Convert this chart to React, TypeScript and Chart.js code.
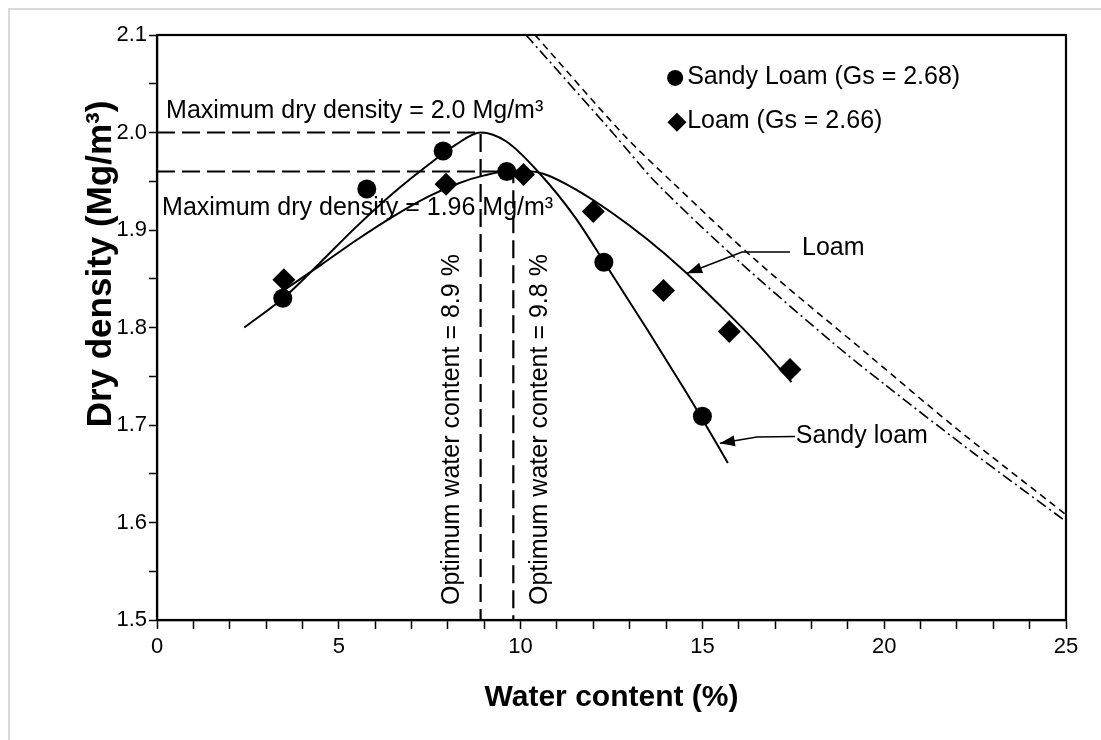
import React, { useEffect, useRef } from 'react';
import { Chart, registerables } from 'chart.js';

Chart.register(...registerables);

const FONT = '"Liberation Sans", Arial, Helvetica, sans-serif';

// Measured points
const sandyLoamWater = [3.46, 5.77, 7.87, 9.62, 12.29, 15.0];
const sandyLoamDensity = [1.83, 1.942, 1.981, 1.96, 1.867, 1.709];
const loamWater = [3.49, 7.95, 10.08, 12.0, 13.93, 15.74, 17.41];
const loamDensity = [1.849, 1.947, 1.957, 1.919, 1.838, 1.796, 1.757];

// Fitted compaction curves
const sandyFitWater = [2.4, 3.5, 4.5, 5.5, 6.5, 7.5, 8.2, 8.9, 9.6, 10.5, 11.5, 12.3, 13.5, 14.5, 15.0, 15.7];
const sandyFitDensity = [1.8, 1.831, 1.867, 1.904, 1.938, 1.968, 1.987, 2.0, 1.991, 1.959, 1.913, 1.867, 1.797, 1.737, 1.706, 1.661];
const loamFitWater = [3.4, 4.5, 5.5, 6.5, 7.5, 8.3, 9.0, 9.8, 10.6, 11.5, 12.5, 13.5, 14.5, 15.5, 16.5, 17.45];
const loamFitDensity = [1.836, 1.864, 1.89, 1.914, 1.935, 1.948, 1.956, 1.961, 1.958, 1.942, 1.918, 1.89, 1.858, 1.822, 1.784, 1.744];

// Zero-air-voids lines
const zavSandyWater = [10.4, 12.8, 14.2, 16.5, 19.5, 22.0, 25.0];
const zavSandyDensity = [2.1, 1.999, 1.948, 1.868, 1.774, 1.696, 1.608];
const zavLoamWater = [10.15, 12.55, 13.74, 16.0, 18.6, 20.0, 22.5, 25.0];
const zavLoamDensity = [2.1, 1.999, 1.948, 1.868, 1.784, 1.742, 1.67, 1.601];

// Optimum values
const maxDensitySandy = 2.0;
const optWaterSandy = 8.9;
const maxDensityLoam = 1.96;
const optWaterLoam = 9.8;

const xRange = [0, 25];
const yRange = [1.5, 2.1];

const seriesLabels = ['Sandy Loam (Gs = 2.68)', 'Loam (Gs = 2.66)'];

const pts = (xs: number[], ys: number[]) => xs.map((x, i) => ({ x, y: ys[i] }));

function arrow(ctx: CanvasRenderingContext2D, path: number[][]) {
  ctx.beginPath();
  ctx.moveTo(path[0][0], path[0][1]);
  for (let i = 1; i < path.length; i++) ctx.lineTo(path[i][0], path[i][1]);
  ctx.stroke();
  const [x1, y1] = path[path.length - 2];
  const [x2, y2] = path[path.length - 1];
  const a = Math.atan2(y2 - y1, x2 - x1);
  const L = 15, W = 5.5;
  ctx.beginPath();
  ctx.moveTo(x2, y2);
  ctx.lineTo(x2 - L * Math.cos(a) + W * Math.sin(a), y2 - L * Math.sin(a) - W * Math.cos(a));
  ctx.lineTo(x2 - L * Math.cos(a) - W * Math.sin(a), y2 - L * Math.sin(a) + W * Math.cos(a));
  ctx.closePath();
  ctx.fill();
}

export default function App() {
  const ref = useRef<HTMLCanvasElement>(null);

  useEffect(() => {
    const canvas = ref.current!;
    const overlay = {
      id: 'overlay',
      afterDraw(chart: any) {
        const ctx: CanvasRenderingContext2D = chart.ctx;
        const { left, right, top, bottom } = chart.chartArea;
        const sx = chart.scales.x, sy = chart.scales.y;
        const px = (v: number) => sx.getPixelForValue(v);
        const py = (v: number) => sy.getPixelForValue(v);
        ctx.save();
        ctx.strokeStyle = '#000';
        ctx.fillStyle = '#000';
        ctx.lineWidth = 2.2;
        ctx.strokeRect(left, top, right - left, bottom - top);

        // annotations
        ctx.font = `25px ${FONT}`;
        ctx.textBaseline = 'middle';
        ctx.textAlign = 'left';
        ctx.fillText(`Maximum dry density = ${maxDensitySandy.toFixed(1)} Mg/m³`, px(0.25), py(2.022));
        ctx.fillText(`Maximum dry density = ${maxDensityLoam.toFixed(2)} Mg/m³`, px(0.14), py(1.9226));

        ctx.save();
        ctx.translate(px(8.11), py(1.5154));
        ctx.rotate(-Math.PI / 2);
        ctx.fillText(`Optimum water content = ${optWaterSandy} %`, 0, 0);
        ctx.restore();
        ctx.save();
        ctx.translate(px(10.53), py(1.5154));
        ctx.rotate(-Math.PI / 2);
        ctx.fillText(`Optimum water content = ${optWaterLoam} %`, 0, 0);
        ctx.restore();

        // curve labels with arrows
        ctx.lineWidth = 1.5;
        arrow(ctx, [[px(17.41), py(1.8774)], [px(16.09), py(1.8774)], [px(14.58), py(1.8556)]]);
        ctx.fillText('Loam', px(17.74), py(1.881));
        arrow(ctx, [[px(17.55), py(1.6882)], [px(16.5), py(1.6877)], [px(15.48), py(1.6812)]]);
        ctx.fillText('Sandy loam', px(17.57), py(1.6887));

        // legend
        ctx.beginPath();
        ctx.arc(px(14.25), py(2.056), 8, 0, Math.PI * 2);
        ctx.fill();
        const dx = px(14.3), dy = py(2.0105), r = 9.5;
        ctx.beginPath();
        ctx.moveTo(dx - r, dy);
        ctx.lineTo(dx, dy - r);
        ctx.lineTo(dx + r, dy);
        ctx.lineTo(dx, dy + r);
        ctx.closePath();
        ctx.fill();
        ctx.fillText(seriesLabels[0], px(14.58), py(2.057));
        ctx.fillText(seriesLabels[1], px(14.58), py(2.0115));

        // y title
        ctx.save();
        ctx.font = `bold 35px ${FONT}`;
        ctx.textAlign = 'center';
        ctx.translate(91, 254);
        ctx.rotate(-Math.PI / 2);
        ctx.fillText('Dry density (Mg/m³)', 0, 0);
        ctx.restore();
        ctx.restore();
      },
    };

    const lineDs = (label: string, data: any[], extra: any) => ({
      label,
      data,
      showLine: true,
      pointRadius: 0,
      borderColor: '#000',
      backgroundColor: '#000',
      borderWidth: 2,
      fill: false,
      ...extra,
    });

    const chart = new Chart(canvas, {
      type: 'scatter',
      data: {
        datasets: [
          {
            label: seriesLabels[0],
            data: pts(sandyLoamWater, sandyLoamDensity),
            pointStyle: 'circle',
            pointRadius: 9.5,
            backgroundColor: '#000',
            borderColor: '#000',
            borderWidth: 0,
            order: 0,
          } as any,
          {
            label: seriesLabels[1],
            data: pts(loamWater, loamDensity),
            pointStyle: 'rectRot',
            pointRadius: 11.5,
            backgroundColor: '#000',
            borderColor: '#000',
            borderWidth: 0,
            order: 1,
          },
          lineDs('Sandy loam fit', pts(sandyFitWater, sandyFitDensity), { cubicInterpolationMode: 'monotone', order: 2 }),
          lineDs('Loam fit', pts(loamFitWater, loamFitDensity), { cubicInterpolationMode: 'monotone', order: 3 }),
          lineDs('ZAV sandy loam', pts(zavSandyWater, zavSandyDensity), { borderWidth: 1.6, borderDash: [7, 5], tension: 0.3, order: 4 }),
          lineDs('ZAV loam', pts(zavLoamWater, zavLoamDensity), { borderWidth: 1.6, borderDash: [11, 4, 2, 4], tension: 0.3, order: 5 }),
          lineDs('Opt sandy', [{ x: xRange[0], y: maxDensitySandy }, { x: optWaterSandy, y: maxDensitySandy }, { x: optWaterSandy, y: yRange[0] }], { borderWidth: 2.2, borderDash: [18, 7], order: 6 }),
          lineDs('Opt loam', [{ x: xRange[0], y: maxDensityLoam }, { x: optWaterLoam, y: maxDensityLoam }, { x: optWaterLoam, y: yRange[0] }], { borderWidth: 2.2, borderDash: [18, 7], order: 7 }),
        ],
      },
      options: {
        responsive: false,
        animation: false,
        events: [],
        layout: { padding: { left: 0, top: 25, right: 29, bottom: 0 } },
        plugins: { legend: { display: false }, tooltip: { enabled: false } },
        scales: {
          x: {
            type: 'linear',
            min: xRange[0],
            max: xRange[1],
            afterFit: (s: any) => { s.height = 115; },
            border: { display: true, color: '#000', width: 2.2 },
            grid: { drawOnChartArea: false, drawTicks: true, tickLength: 9, tickWidth: 1.5, tickColor: '#000' },
            ticks: {
              stepSize: 1,
              autoSkip: false,
              maxRotation: 0,
              padding: 5,
              color: '#000',
              font: { size: 22, family: FONT },
              callback: (v: any) => (Math.round(v) % 5 === 0 ? String(Math.round(v)) : ''),
            },
            title: {
              display: true,
              text: 'Water content (%)',
              color: '#000',
              font: { size: 30, weight: 'bold', family: FONT },
              padding: { top: 4, bottom: 19 },
            },
          },
          y: {
            type: 'linear',
            min: yRange[0],
            max: yRange[1],
            afterFit: (s: any) => { s.width = 147; },
            border: { display: true, color: '#000', width: 2.2 },
            grid: { drawOnChartArea: false, drawTicks: true, tickLength: 8, tickWidth: 1.5, tickColor: '#000' },
            ticks: {
              stepSize: 0.05,
              autoSkip: false,
              padding: 2,
              color: '#000',
              font: { size: 22, family: FONT },
              callback: (v: any) => {
                const r = Math.round(v * 100);
                return r % 10 === 0 ? (r / 100).toFixed(1) : '';
              },
            },
          },
        },
      },
      plugins: [overlay],
    });
    return () => chart.destroy();
  }, []);

  return (
    <div
      style={{
        position: 'fixed',
        left: 8,
        top: 8,
        width: 1093,
        height: 732,
        borderLeft: '2px solid #d9d9d9',
        borderTop: '2px solid #d9d9d9',
        background: '#fff',
      }}
    >
      <canvas ref={ref} width={1085} height={725} style={{ position: 'absolute', left: 0, top: 0, width: 1085, height: 725 }} />
    </div>
  );
}
